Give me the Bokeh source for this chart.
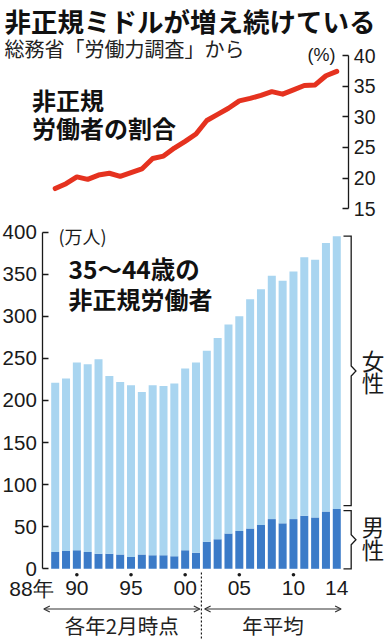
from bokeh.plotting import figure
from bokeh.models import ColumnDataSource, Range1d, LinearAxis, FixedTicker, Arrow, OpenHead
from bokeh.core.properties import value
from bokeh.embed import file_html
from bokeh.resources import INLINE

# ---------------- data ----------------
years = list(range(1988, 2015))
ratio = [18.3, 19.1, 20.2, 19.8, 20.5, 20.8, 20.3, 20.9, 21.5, 23.2, 23.6, 24.9, 26.0,
         27.2, 29.4, 30.4, 31.4, 32.6, 33.0, 33.5, 34.1, 33.7, 34.4, 35.1, 35.2, 36.7, 37.4]
male = [20, 21, 22, 20, 18, 18, 17, 14, 17, 16, 16, 15, 22,
        19, 32, 35, 42, 45, 48, 52, 59, 54, 59, 63, 61, 68, 71]
female = [201, 205, 223, 223, 231, 211, 205, 204, 193, 202, 201, 205, 216,
          226, 227, 239, 248, 255, 272, 280, 289, 288, 294, 307, 306, 319, 324]
bar_ticks = [0, 50, 100, 150, 200, 250, 300, 350, 400]
pct_ticks = [15, 20, 25, 30, 35, 40]
year_ticks = [1990, 1995, 2000, 2005, 2010, 2014]
year_tick_labels = ["90", "95", "00", "05", "10", "14"]
dot_ticks = [1990, 1995, 2000, 2005, 2010]
first_year_label = "88年"

# ---------------- layout helpers (pixel -> data) ----------------
W, H = 387, 640
PX_1988, PX_PER_YEAR = 54.7, 10.83
PY_ZERO, PX_PER_UNIT = 568.3, 0.842
PY_40, PX_PER_PCT = 55.0, 6.132


def X(px):
    return 1988 + (px - PX_1988) / PX_PER_YEAR


def Y(py):
    return (PY_ZERO - py) / PX_PER_UNIT


JP = "Noto Sans CJK JP"
NUM = "Liberation Sans"
INK = "#1a1a1a"
RED = "#e5321f"
DARK = "#3b7bc8"
LIGHT = "#a9d5f0"

p = figure(width=W, height=H, output_backend="svg", toolbar_location=None,
           x_range=Range1d(X(0), X(W)), y_range=Range1d(Y(H), Y(0)),
           x_axis_location=None, y_axis_location=None, min_border=0)
p.outline_line_color = None
p.grid.visible = False
p.background_fill_color = "white"
p.border_fill_color = "white"
p.extra_y_ranges = {"pct": Range1d(40 - (H - PY_40) / PX_PER_PCT, 40 + PY_40 / PX_PER_PCT)}

# ---------------- bars ----------------
src = ColumnDataSource(dict(year=years, male=male, female=female))
p.vbar_stack(["male", "female"], x="year", width=0.74, color=[DARK, LIGHT],
             line_color=None, source=src)

# ---------------- ratio line ----------------
p.line(years, ratio, y_range_name="pct", line_color=RED, line_width=5,
       line_join="round", line_cap="round")

# ---------------- axes ----------------
yl = LinearAxis(fixed_location=X(42.3), bounds=(0, 400), ticker=FixedTicker(ticks=bar_ticks))
yl.major_tick_in = 6
yl.major_tick_out = 0
yl.minor_tick_line_color = None
yl.major_label_standoff = 6
yl.major_label_text_font = NUM
yl.major_label_text_font_size = "20.5px"
yl.major_label_text_color = INK
yl.axis_line_color = INK
yl.major_tick_line_color = INK
yl.axis_line_width = 1.3
yl.major_tick_line_width = 1.3
p.add_layout(yl, "left")

yr = LinearAxis(y_range_name="pct", fixed_location=X(348.3), bounds=(15, 40),
                ticker=FixedTicker(ticks=pct_ticks))
yr.major_tick_in = 6
yr.major_tick_out = 0
yr.minor_tick_line_color = None
yr.major_label_standoff = 5
yr.major_label_text_font = NUM
yr.major_label_text_font_size = "19.5px"
yr.major_label_text_color = INK
yr.axis_line_color = INK
yr.major_tick_line_color = INK
yr.axis_line_width = 1.3
yr.major_tick_line_width = 1.3
p.add_layout(yr, "right")

xa = LinearAxis(fixed_location=0, ticker=FixedTicker(ticks=year_ticks))
xa.major_label_overrides = dict(zip(year_ticks, year_tick_labels))
xa.axis_line_color = None
xa.major_tick_line_color = None
xa.minor_tick_line_color = None
xa.major_tick_in = 0
xa.major_tick_out = 0
xa.major_label_standoff = 12
xa.major_label_text_font = NUM
xa.major_label_text_font_size = "21px"
xa.major_label_text_color = INK
p.add_layout(xa, "below")

# small tick dots under the five-year labels
p.scatter(x=dot_ticks, y=[Y(574.3)] * len(dot_ticks), size=3.6, marker="circle",
          fill_color=INK, line_color=None)

p.text(x=[years[0]], y=[Y(588.3)], text=[first_year_label], text_font=value(NUM),
       text_font_size="21px", text_align="right", text_baseline="middle",
       x_offset=-1.5, text_color=INK)

# ---------------- texts ----------------
def label(px, py, txt, size, bold=False, font=JP, align="left", color=INK):
    p.text(x=[X(px)], y=[Y(py)], text=[txt], text_font=value(font),
           text_font_size=size, text_font_style="bold" if bold else "normal",
           text_align=align, text_baseline="middle", text_color=color)


label(4, 19.8, "非正規ミドルが増え続けている", "26.5px", bold=True, color="#111")
label(4, 48, "総務省「労働力調査」から", "20px", color="#222")
label(321, 54, "(%)", "18px", font=NUM, align="center")
label(31.5, 99, "非正規", "24px", bold=True, color="#111")
label(31.5, 126.7, "労働者の割合", "24px", bold=True, color="#111")
label(58, 235, "(万人)", "18px")
label(68, 268, "35〜44歳の", "24.5px", bold=True, color="#111")
label(68, 297.5, "非正規労働者", "24px", bold=True, color="#111")

# ---------------- brackets ----------------
last = years[-1]
tot_last = male[-1] + female[-1]
bx0, bx1, btip = last + 0.62, last + 1.33, last + 1.77
d = 6
f_top, f_bot = tot_last, male[-1] + 4
m_top, m_bot = male[-1] - 2, 0
f_mid = (f_top + f_bot) / 2
m_mid = (m_top + m_bot) / 2
p.multi_line(
    xs=[[bx0, bx1, bx1, btip, bx1, bx1, bx0], [bx0, bx1, bx1, btip, bx1, bx1, bx0]],
    ys=[[f_top, f_top, f_mid + d, f_mid, f_mid - d, f_bot, f_bot],
        [m_top, m_top, m_mid + d, m_mid, m_mid - d, m_bot, m_bot]],
    line_color=INK, line_width=1.3, line_join="miter")
cx = X(372.5)
step = 11.3 / PX_PER_UNIT
p.text(x=[cx, cx, cx, cx], y=[f_mid + step, f_mid - step, m_mid + step + 3, m_mid - step + 3],
       text=["女", "性", "男", "性"], text_font=value(JP), text_font_size="22.5px",
       text_align="center", text_baseline="middle", text_color=INK)

# ---------------- period markers ----------------
split = (years[13] + years[14]) / 2
p.segment(x0=[split], y0=[Y(572)], x1=[split], y1=[Y(H)], line_color=INK,
          line_width=1.2, line_dash="2 2")
ay = Y(608.5)
a1 = (X(43.3), split - 0.15)
a2 = (split + 0.3, last + 0.4)
for xs_, xe_ in (a1, a2):
    p.add_layout(Arrow(x_start=xs_, y_start=ay, x_end=xe_, y_end=ay, line_color="#333",
                       line_width=1.2,
                       start=OpenHead(size=6, line_color="#333", line_width=1.2),
                       end=OpenHead(size=6, line_color="#333", line_width=1.2)))
p.text(x=[(a1[0] + a1[1]) / 2, (a2[0] + a2[1]) / 2], y=[Y(624.3), Y(624.3)],
       text=["各年2月時点", "年平均"], text_font=value(JP), text_font_size="20.5px",
       text_align="center", text_baseline="middle", text_color="#222")

open("out.html", "w").write(file_html(p, INLINE))
